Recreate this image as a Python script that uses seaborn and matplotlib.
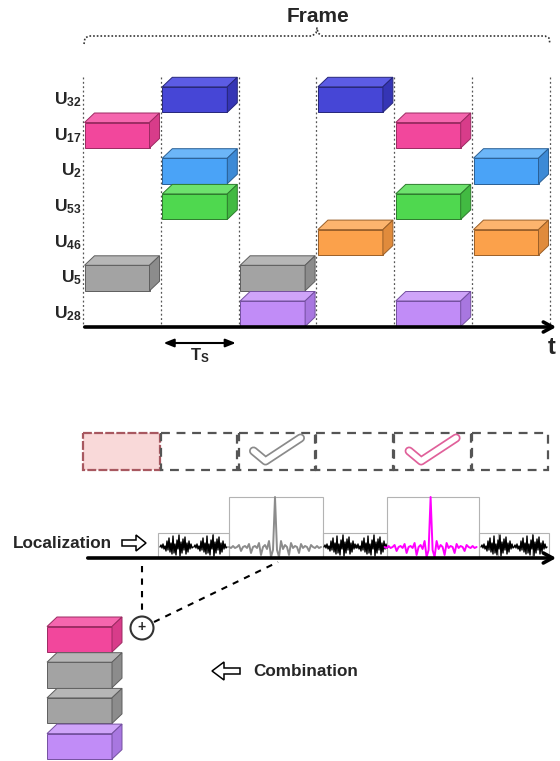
import matplotlib
matplotlib.use("Agg")
import matplotlib.pyplot as plt
import matplotlib.patheffects as pe
from matplotlib.patches import Polygon, Rectangle, Circle
import seaborn as sns

# schedule: users top to bottom and the slots each one transmits in
users = ["32", "17", "2", "53", "46", "5", "28"]
user_slots = [[1, 3], [0, 4], [1, 5], [1, 4], [3, 5], [0, 2], [2, 4]]
front_colors = ["#4646d6", "#f2479c", "#4aa3f7", "#4fd84f", "#fba14b", "#a3a3a3", "#c18cf7"]
top_colors = ["#5c5ce4", "#f566ae", "#6cb6f8", "#6de26d", "#fcb46e", "#b6b6b6", "#cfa4f9"]
side_colors = ["#3535b5", "#d83c8a", "#3d8ad6", "#42ba42", "#e08b3c", "#8c8c8c", "#a877e0"]
edge_colors = ["#26267a", "#9c2a62", "#2a5f94", "#2d7d2d", "#9a5f28", "#5e5e5e", "#7450a0"]
n_slots = 6

# boxes collected at the bottom (index into users)
combo_users = [1, 5, 5, 6]

# received signal: step envelope and hand-read waveforms
env_edges = [158, 229, 323, 387, 479, 549]
env_heights = [25, 61, 25, 61, 25]
env_inner = [213, 498, 532]
noise_burst = [0, -2, 1, -3, 2, -1, 4, -6, 3, -9, 5, -4, 7, -11, 6, -3, 8,
               -7, 2, -12, 9, -5, 6, -8, 3, -10, 7, -4, 5, -6, 2, -3, 1, 0]
burst_starts = [160, 194, 324, 355, 481, 514]
pulse = [0, 1, -1, 1, 0, -2, 4, 0, -1, 1, -3, 6, 0, -1, 1, -4, 8, 0, -2, 2, -6, 10, 3,
         -50,
         3, 10, -6, 2, -2, 0, 8, -4, 1, -1, 0, 6, -3, 1, -1, 0, 4, -2, 0, 1, -1, 1, 0]
pulse_slots = [2, 4]
pulse_colors = ["#8c8c8c", "#ff00ff"]
check_colors = ["#8a8a8a", "#e0609a"]

sns.set_theme(style="white")
plt.rcParams["font.family"] = ["Liberation Sans", "DejaVu Sans"]
plt.rcParams["mathtext.fontset"] = "custom"
plt.rcParams["mathtext.rm"] = "Liberation Sans"
plt.rcParams["mathtext.bf"] = "Liberation Sans:bold"

X0, SW = 83, 77.8
FW, FH, DX, DY = 65, 25.5, 10, 9.5
PITCH = 35.7
AXIS_Y = 327


def box(ax, x, ybot, k):
    yt = ybot - FH
    ec = edge_colors[k]
    faces = [
        ([(x, ybot), (x + FW, ybot), (x + FW, yt), (x, yt)], front_colors[k]),
        ([(x, yt), (x + DX, yt - DY), (x + FW + DX, yt - DY), (x + FW, yt)], top_colors[k]),
        ([(x + FW, yt), (x + FW + DX, yt - DY), (x + FW + DX, ybot - DY), (x + FW, ybot)], side_colors[k]),
    ]
    for pts, fc in faces:
        ax.add_patch(Polygon(pts, closed=True, fc=fc, ec=ec, lw=0.7, zorder=3))


fig = plt.figure(figsize=(5.6, 7.61), dpi=100)
ax = fig.add_axes([0, 0, 1, 1])
ax.set_xlim(0, 560)
ax.set_ylim(761, 0)
ax.axis("off")

# frame bracket
ax.text(318, 17, "Frame", ha="center", va="center", fontsize=15, fontweight="bold")
bx = [84, 85, 89, 312, 316, 317, 318, 322, 545, 549, 550]
by = [44, 38, 36, 36, 33, 28, 33, 36, 36, 38, 44]
ax.plot(bx, by, color="#333333", ls=(0, (1, 1.2)), lw=1.2)

# slot boundaries
for k in range(n_slots + 1):
    ax.plot([X0 + k * SW] * 2, [77, AXIS_Y], color="#555555", ls=(0, (1.5, 2)), lw=0.9, zorder=1)

# user boxes and labels
for i, u in enumerate(users):
    ybot = AXIS_Y - 0.5 - (len(users) - 1 - i) * PITCH
    ax.text(82, ybot - FH / 2, r"$\mathbf{U_{%s}}$" % u, ha="right", va="center", fontsize=12.5)
    for s in user_slots[i]:
        box(ax, X0 + s * SW + 1.5, ybot, i)

# time axis
ax.annotate("", xy=(559, AXIS_Y), xytext=(82, AXIS_Y),
            arrowprops=dict(arrowstyle="->,head_length=0.55,head_width=0.3", lw=2.6, color="black"))
ax.text(552, 347, "t", ha="center", va="center", fontsize=17, fontweight="bold")
ax.annotate("", xy=(X0 + SW, 343), xytext=(X0 + 2 * SW, 343),
            arrowprops=dict(arrowstyle="<|-|>,head_length=0.5,head_width=0.2", lw=1.5, color="black"))
ax.text(X0 + 1.5 * SW, 356, r"$\mathbf{T_S}$", ha="center", va="center", fontsize=12)

# reception row
ax.add_patch(Rectangle((X0, 433), SW - 1, 37, fc="#f9d9d9", ec="#a85860", lw=1.6, ls=(0, (4, 1))))
for k in range(1, n_slots):
    ax.add_patch(Rectangle((X0 + k * SW, 433), SW - 1.5, 37, fill=False, ec="#555555",
                           lw=1.6, ls=(0, (4, 3))))
for s, c in zip(pulse_slots, check_colors):
    cx = X0 + (s + 0.5) * SW
    ax.plot([cx - 24, cx - 12, cx + 23], [451, 461, 438], color="white", lw=4,
            solid_capstyle="round", solid_joinstyle="round",
            path_effects=[pe.Stroke(linewidth=6.5, foreground=c, capstyle="round", joinstyle="round"), pe.Normal()])

# received signal
SIG_Y = 558
widths = [b - a for a, b in zip(env_edges[:-1], env_edges[1:])]
ax.bar(env_edges[:-1], [-h for h in env_heights], width=widths, bottom=SIG_Y, align="edge",
       fill=False, edgecolor="#b3b3b3", lw=0.8, zorder=1)
for xi in env_inner:
    ax.plot([xi, xi], [SIG_Y, SIG_Y - 25], color="#b3b3b3", lw=0.8, zorder=1)
for x0 in burst_starts:
    sns.lineplot(x=[x0 + j for j in range(len(noise_burst))], y=[547 + v for v in noise_burst],
                 ax=ax, color="black", lw=1.0, estimator=None, sort=False, zorder=2)
for s, c in zip(pulse_slots, pulse_colors):
    cx = X0 + (s + 0.5) * SW - 2.5
    half = len(pulse) // 2
    sns.lineplot(x=[cx + 2 * (j - half) for j in range(len(pulse))], y=[547 + v for v in pulse],
                 ax=ax, color=c, lw=1.4, estimator=None, sort=False, zorder=2)
ax.annotate("", xy=(559, SIG_Y), xytext=(85, SIG_Y),
            arrowprops=dict(arrowstyle="->,head_length=0.55,head_width=0.3", lw=2.6, color="black"))

ax.text(13, 543, "Localization", ha="left", va="center", fontsize=12.3, fontweight="bold")
ax.add_patch(Polygon([(122, 540), (136, 540), (136, 535), (146, 543), (136, 551), (136, 546), (122, 546)],
                     closed=True, fc="white", ec="black", lw=1.1))

# combination
ax.plot([142, 142], [566, 616], color="black", ls=(0, (3, 3)), lw=1.5)
ax.add_patch(Circle((142, 628), 11.5, fill=False, ec="#333333", lw=1.5))
ax.text(142, 627, "+", ha="center", va="center", fontsize=10, fontweight="bold")
ax.plot([154, 278], [622, 562], color="black", ls=(0, (3, 3)), lw=1.5)

for j, k in enumerate(combo_users):
    box(ax, 47, 652 + j * PITCH, k)

ax.add_patch(Polygon([(240, 668), (224, 668), (224, 662), (212, 671), (224, 680), (224, 674), (240, 674)],
                     closed=True, fc="white", ec="black", lw=1.1))
ax.text(253, 671, "Combination", ha="left", va="center", fontsize=12.3, fontweight="bold")

fig.savefig("out.png", dpi=100)
